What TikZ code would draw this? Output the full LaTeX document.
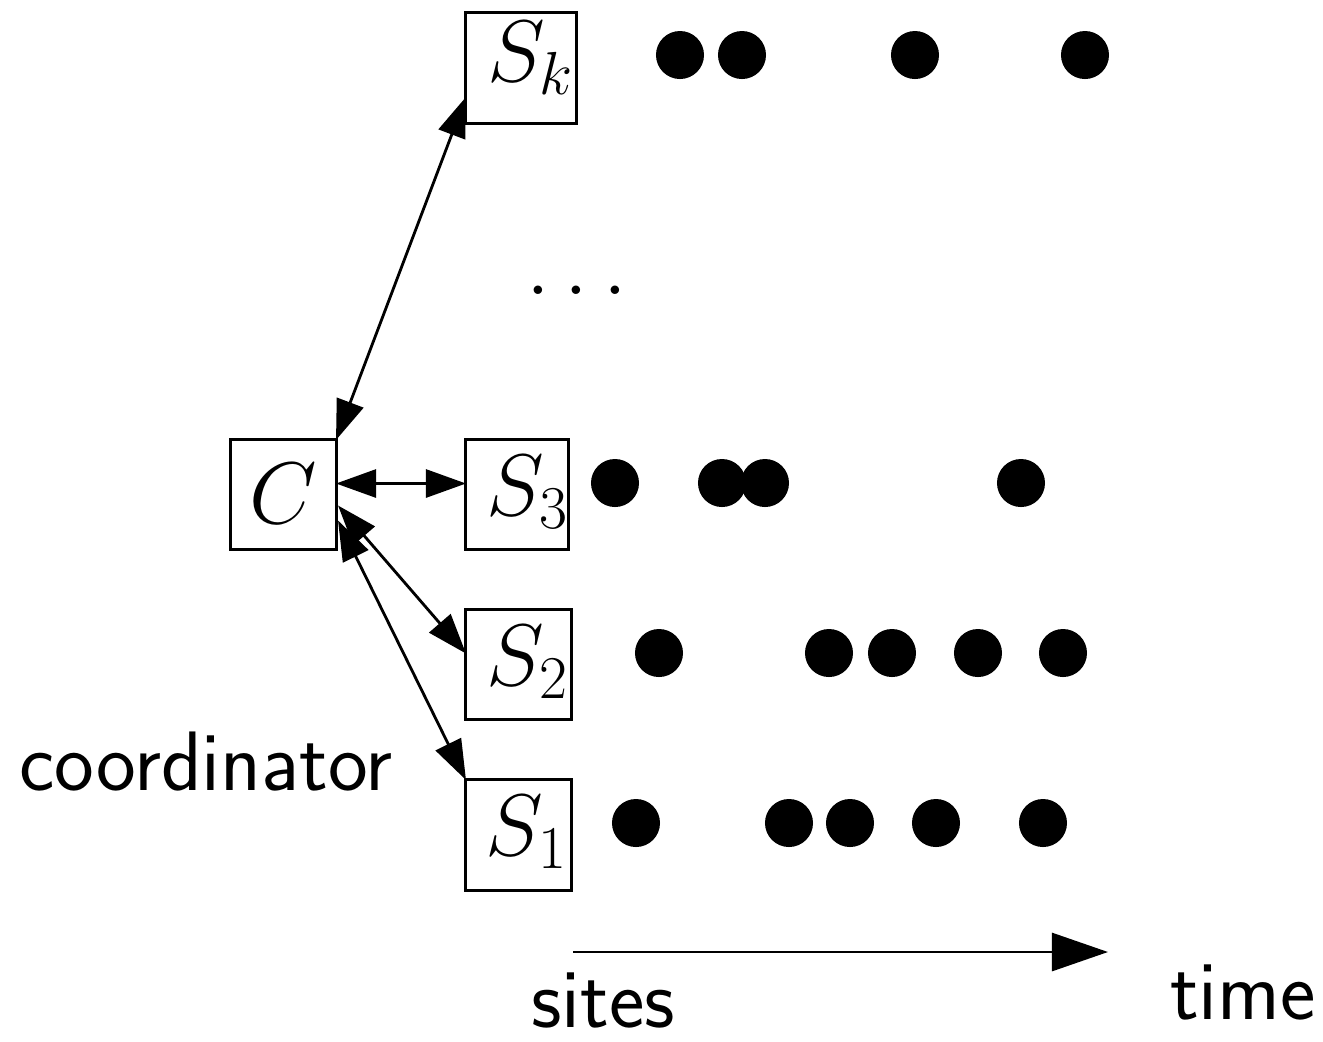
\documentclass[tikz,border=0pt]{standalone}
\usetikzlibrary{arrows.meta,calc}
\begin{document}
\begin{tikzpicture}[x=0.01cm,y=-0.01cm,
  sitebox/.style={draw,line width=0.85pt,minimum width=1.05cm,minimum height=1.09cm,inner sep=0pt,outer sep=0pt},
  lbl/.style={font=\fontsize{23}{27}\selectfont},
  stxt/.style={font=\fontsize{24}{28}\selectfont\sffamily,inner sep=0pt},
  ev/.style={fill=black,circle,minimum size=0.48cm,inner sep=0pt},
  link/.style={line width=0.8pt,{Triangle[length=0.40cm,width=0.28cm]}-{Triangle[length=0.40cm,width=0.28cm]}}]
\useasboundingbox (0,0) rectangle (1323,1041);
% boxes
\node[sitebox,minimum width=1.05cm,minimum height=1.09cm] (C) at (283.5,494.5) {};
\node[sitebox,minimum width=1.10cm,minimum height=1.10cm] (Sk) at (521,68) {};
\node[sitebox,minimum width=1.02cm,minimum height=1.09cm] (S3) at (517,494.5) {};
\node[sitebox,minimum width=1.05cm,minimum height=1.09cm] (S2) at (518.5,664.5) {};
\node[sitebox,minimum width=1.05cm,minimum height=1.10cm] (S1) at (518.5,835) {};
% labels
\node[lbl] (tC) at (283,494) {$C$};
\node[lbl] (tSk) at (531,58) {$S_k$};
\node[lbl] (tS3) at (528,492) {$S_3$};
\node[lbl] (tS2) at (528,662) {$S_2$};
\node[lbl] (tS1) at (527,832) {$S_1$};
\node[lbl] (dots) at (577,290) {$\dots$};
\node[stxt] (coord) at (206,762) {coordinator};
\node[stxt] (sites) at (603,1000) {sites};
\node[stxt] (time) at (1243,992) {time};
% connectors
\draw[link] (C.north east) -- ($(Sk.south west)+(0,-26)$);
\draw[link] ($(C.east)+(0,-11)$) -- ($(S3.west)+(0,-11)$);
\draw[link] ($(C.east)+(2,11)$) -- ($(S2.west)+(0,-11)$);
\draw[link] ($(C.east)+(2,26)$) -- (S1.north west);
% time arrow
\coordinate (t0) at (573,952);
\coordinate (t1) at (1108,952);
\draw[line width=0.8pt,-{Triangle[length=0.56cm,width=0.38cm]}] (t0) -- (t1);
% events
\foreach \x [count=\i] in {680,742,915,1085} \node[ev] (k\i) at (\x,55) {};
\foreach \x [count=\i] in {615,722,765,1021} \node[ev] (c\i) at (\x,483) {};
\foreach \x [count=\i] in {659,829,892,978,1063} \node[ev] (b\i) at (\x,653) {};
\foreach \x [count=\i] in {636,789,850,936,1043} \node[ev] (a\i) at (\x,823) {};
\end{tikzpicture}
\end{document}
